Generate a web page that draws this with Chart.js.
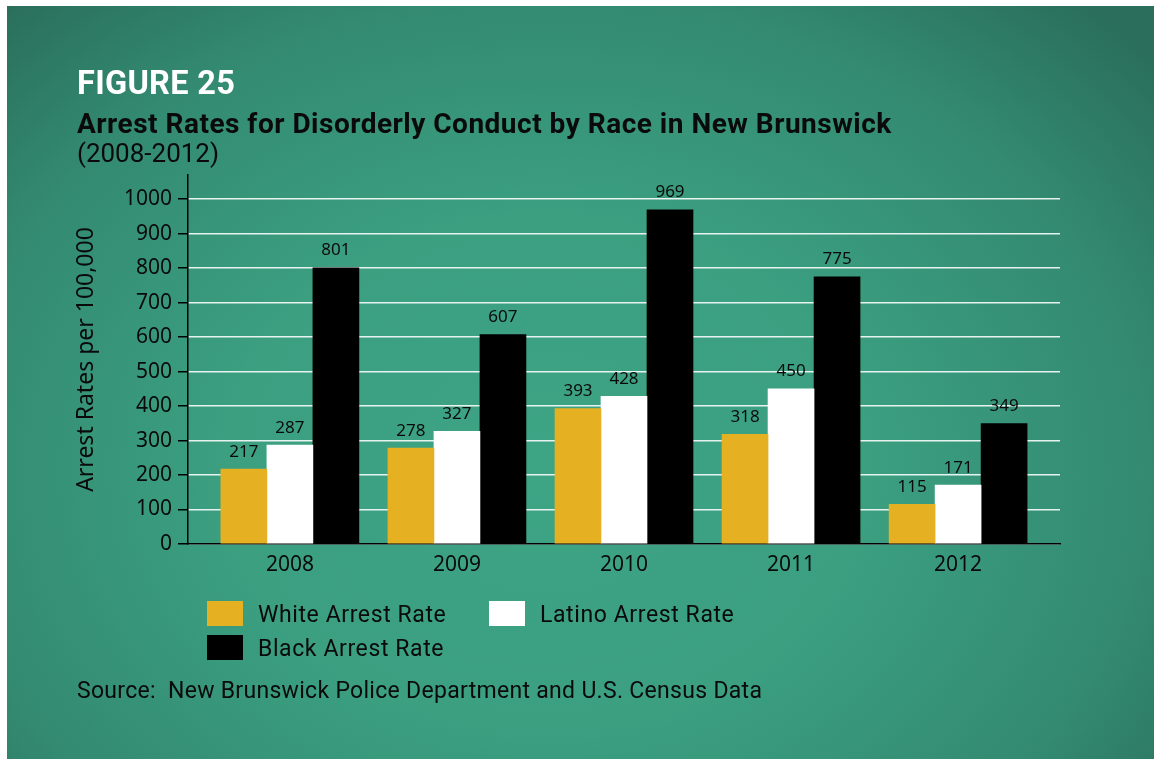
<!DOCTYPE html>
<html>
<head>
<meta charset="utf-8">
<title>Arrest Rates for Disorderly Conduct by Race in New Brunswick</title>
<script src="https://cdn.jsdelivr.net/npm/chart.js@4.4.1/dist/chart.umd.min.js"></script>
<style>
  html, body { margin: 0; padding: 0; background: #ffffff; width: 1154px; height: 759px; overflow: hidden; }
  #panel {
    position: absolute; left: 7px; top: 6px; width: 1147px; height: 753px;
    background: radial-gradient(ellipse 70% 85% at 47% 62%, #3da484 0%, #3b9f80 40%, #338a70 75%, #2a6e5b 100%);
  }
  #chart { position: absolute; left: 0; top: 0; }
  .txt { position: absolute; left: 77px; color: #0a0a0a; white-space: pre; font-family: Roboto, "Noto Sans", sans-serif; }
  #fig { top: 64px; font-size: 32.5px; font-weight: 700; color: #ffffff; letter-spacing: 0.3px; }
  #title { top: 107px; font-size: 28px; font-weight: 700; letter-spacing: 0.5px; }
  #sub { top: 138px; font-size: 26px; font-weight: 400; }
  #source { top: 677px; font-size: 23px; letter-spacing: 0.3px; }
  #legend { position: absolute; left: 207px; top: 601px; display: grid; grid-template-columns: 282px 282px; row-gap: 9px; }
  .item { display: flex; align-items: center; height: 25px; }
  .box { width: 36px; height: 25px; margin-right: 15px; flex: none; }
  .lab { font-family: Roboto, "Noto Sans", sans-serif; font-size: 23px; letter-spacing: 0.6px; color: #0a0a0a; white-space: pre; position: relative; top: 1px; }
</style>
</head>
<body>
<div id="panel"></div>
<canvas id="chart" width="1154" height="759"></canvas>
<div class="txt" id="fig">FIGURE 25</div>
<div class="txt" id="title">Arrest Rates for Disorderly Conduct by Race in New Brunswick</div>
<div class="txt" id="sub">(2008-2012)</div>
<div id="legend"></div>
<div class="txt" id="source">Source:  New Brunswick Police Department and U.S. Census Data</div>
<script>
// Arrest rates per 100,000 residents, 2008-2012
const years = ['2008', '2009', '2010', '2011', '2012'];
const whiteRates  = [217, 278, 393, 318, 115];
const latinoRates = [287, 327, 428, 450, 171];
const blackRates  = [801, 607, 969, 775, 349];
const seriesNames = ['White Arrest Rate', 'Latino Arrest Rate', 'Black Arrest Rate'];
const yTicks = [0, 100, 200, 300, 400, 500, 600, 700, 800, 900, 1000];

const toPoints = arr => arr.map((v, i) => ({ x: i, y: v }));

// Value printed above every bar
const barValues = {
  id: 'barValues',
  afterDatasetsDraw(chart) {
    const ctx = chart.ctx;
    ctx.save();
    ctx.font = '17px "Noto Sans", sans-serif';
    ctx.fillStyle = '#0a0a0a';
    ctx.textAlign = 'center';
    ctx.textBaseline = 'alphabetic';
    chart.data.datasets.forEach((ds, di) => {
      chart.getDatasetMeta(di).data.forEach((bar, i) => {
        ctx.fillText(String(ds.data[i].y), bar.x, bar.y - 12.5);
      });
    });
    ctx.restore();
  }
};

const chart = new Chart(document.getElementById('chart'), {
  type: 'bar',
  data: {
    datasets: [
      { label: seriesNames[0], data: toPoints(whiteRates),  backgroundColor: '#e5b122' },
      { label: seriesNames[1], data: toPoints(latinoRates), backgroundColor: '#ffffff' },
      { label: seriesNames[2], data: toPoints(blackRates),  backgroundColor: '#000000' }
    ]
  },
  options: {
    responsive: false,
    animation: false,
    events: [],
    layout: { padding: { left: 60, top: 175, right: 94, bottom: 175 } },
    datasets: { bar: { barThickness: 46, borderWidth: 0 } },
    plugins: { legend: { display: false }, tooltip: { enabled: false } },
    scales: {
      x: {
        type: 'linear',
        offset: false,
        min: -0.61,
        max: 4.61,
        afterBuildTicks: s => { s.ticks = years.map((_, i) => ({ value: i })); },
        afterFit: s => { s.height = 40; },
        grid: { display: false, drawTicks: false, offset: false },
        border: { display: true, color: '#000000', width: 1.5 },
        ticks: {
          padding: 8,
          color: '#0a0a0a',
          font: { family: '"Noto Sans", sans-serif', size: 21 },
          callback: v => years[v]
        }
      },
      y: {
        min: 0,
        max: 1070,
        afterBuildTicks: s => { s.ticks = yTicks.map(v => ({ value: v })); },
        afterFit: s => { s.width = 128; },
        grid: { color: 'rgba(240,248,244,0.95)', lineWidth: 1.5, tickColor: '#000000', tickLength: 10 },
        border: { display: true, color: '#000000', width: 1.5 },
        ticks: {
          padding: 6,
          color: '#0a0a0a',
          font: { family: '"Noto Sans", sans-serif', size: 21 },
          callback: v => String(v)
        },
        title: {
          display: true,
          text: 'Arrest Rates per 100,000',
          color: '#0a0a0a',
          font: { family: '"Noto Sans", sans-serif', size: 23 },
          padding: { top: 13, bottom: 0 }
        }
      }
    }
  },
  plugins: [barValues]
});

// Legend laid out in two columns from the chart's own datasets
const legend = document.getElementById('legend');
chart.data.datasets.forEach(ds => {
  const item = document.createElement('div');
  item.className = 'item';
  const box = document.createElement('div');
  box.className = 'box';
  box.style.background = ds.backgroundColor;
  const lab = document.createElement('span');
  lab.className = 'lab';
  lab.textContent = ds.label;
  item.appendChild(box);
  item.appendChild(lab);
  legend.appendChild(item);
});
</script>
</body>
</html>
